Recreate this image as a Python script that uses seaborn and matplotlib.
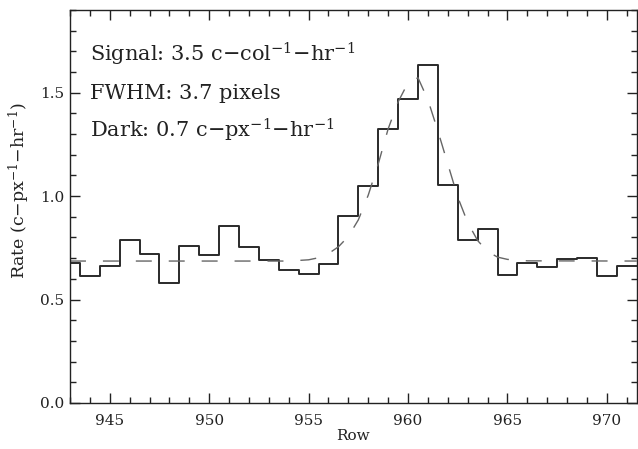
import numpy as np
import pandas as pd
import matplotlib
matplotlib.use("Agg")
import matplotlib.pyplot as plt
from matplotlib.ticker import MultipleLocator
import seaborn as sns

# Observed rate per row (step histogram, bins centred on integer rows)
rows = [943, 944, 945, 946, 947, 948, 949, 950, 951, 952, 953, 954, 955, 956,
        957, 958, 959, 960, 961, 962, 963, 964, 965, 966, 967, 968, 969, 970, 971]
rate = [0.678, 0.613, 0.662, 0.790, 0.718, 0.581, 0.759, 0.714, 0.856, 0.754,
        0.689, 0.644, 0.623, 0.671, 0.904, 1.050, 1.325, 1.467, 1.633, 1.053,
        0.788, 0.840, 0.618, 0.678, 0.659, 0.694, 0.699, 0.613, 0.662]

# Fitted profile (dashed)
fit_rows = [943, 954, 955, 955.5, 956, 956.5, 957, 957.5, 958, 958.5, 959, 959.5,
            960, 960.5, 961, 961.5, 962, 962.5, 963, 963.5, 964, 964.5, 965, 966, 971.5]
fit_rate = [0.686, 0.686, 0.692, 0.702, 0.722, 0.755, 0.805, 0.885, 1.005, 1.155,
            1.325, 1.455, 1.548, 1.572, 1.465, 1.315, 1.155, 0.995, 0.872, 0.785,
            0.732, 0.705, 0.694, 0.687, 0.686]

labels = ["Signal: 3.5 c$-$col$^{-1}$$-$hr$^{-1}$",
          "FWHM: 3.7 pixels",
          "Dark: 0.7 c$-$px$^{-1}$$-$hr$^{-1}$"]
label_y = [1.65, 1.471, 1.282]

sns.set_theme(style="ticks")
plt.rcParams["font.family"] = ["DejaVu Serif"]
plt.rcParams["mathtext.fontset"] = "dejavuserif"

fig = plt.figure(figsize=(6.38, 4.49), dpi=100)
ax = fig.add_axes([0.1097, 0.1025, 0.8883, 0.8755])

edges = [r - 0.5 for r in rows] + [rows[-1] + 0.5]
sns.histplot(x=rows, weights=rate, bins=edges, element="step",
             fill=False, color="#2a2a2a", linewidth=1.4, ax=ax)

fit_df = pd.DataFrame({"row": fit_rows, "rate": fit_rate})
sns.lineplot(data=fit_df, x="row", y="rate", color="#666666", linewidth=1.0,
             ax=ax, linestyle=(0, (11.5, 12.2)))

for txt, yy in zip(labels, label_y):
    ax.text(944.0, yy, txt, fontsize=15, va="baseline", ha="left", color="#222222")

ax.set_xlim(943, 971.5)
ax.set_ylim(0, 1.9)
ax.xaxis.set_major_locator(MultipleLocator(5))
ax.xaxis.set_minor_locator(MultipleLocator(1))
ax.yaxis.set_major_locator(MultipleLocator(0.5))
ax.yaxis.set_minor_locator(MultipleLocator(0.1))
ax.yaxis.set_major_formatter(matplotlib.ticker.FormatStrFormatter("%.1f"))
ax.tick_params(which="both", direction="in", top=True, right=True,
               labelsize=11, color="#222222", width=1, labelcolor="#222222")
ax.tick_params(axis="x", which="both", pad=8)
ax.tick_params(axis="y", which="both", pad=4)
ax.tick_params(which="major", length=7)
ax.tick_params(which="minor", length=4)
for s in ax.spines.values():
    s.set_visible(True)
    s.set_linewidth(1.0)
    s.set_color("#222222")
ax.set_xlabel("Row", fontsize=11, labelpad=1, color="#222222")
ax.set_ylabel("Rate (c$-$px$^{-1}$$-$hr$^{-1}$)", fontsize=12.5, color="#222222")
ax.yaxis.set_label_coords(-0.067, 0.54)

fig.savefig("out.png", dpi=100)
